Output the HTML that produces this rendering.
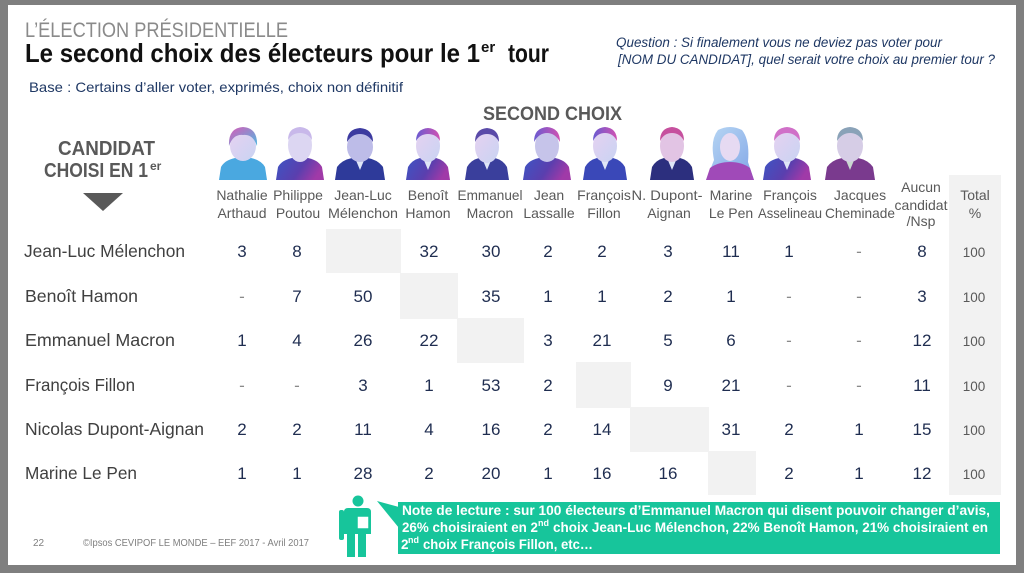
<!DOCTYPE html>
<html><head><meta charset="utf-8"><style>
html,body{margin:0;padding:0;background:#7f7f7f;}
svg{display:block;}
text{font-family:"Liberation Sans",Arial,sans-serif;}
</style></head><body>
<svg width="1024" height="573" viewBox="0 0 1024 573" xmlns="http://www.w3.org/2000/svg">
<defs>
<linearGradient id="suit" x1="0" y1="0" x2="1" y2="0.3"><stop offset="0" stop-color="#3d55c4"/><stop offset="0.6" stop-color="#5a3fae"/><stop offset="1" stop-color="#a03aa8"/></linearGradient>
<linearGradient id="face" x1="0" y1="0" x2="1" y2="1"><stop offset="0" stop-color="#e6d2f0"/><stop offset="1" stop-color="#c9d3f3"/></linearGradient>
<linearGradient id="hair" x1="0" y1="0" x2="1" y2="0"><stop offset="0" stop-color="#6a5ad0"/><stop offset="1" stop-color="#d052b2"/></linearGradient>
<linearGradient id="hairF" x1="0" y1="0" x2="1" y2="1"><stop offset="0" stop-color="#d85cb8"/><stop offset="1" stop-color="#4fb8e0"/></linearGradient>
<linearGradient id="blond" x1="0" y1="0" x2="1" y2="1"><stop offset="0" stop-color="#b9d8f4"/><stop offset="1" stop-color="#7fa4e6"/></linearGradient>
</defs>
<rect x="0" y="0" width="1024" height="573" fill="#7f7f7f"/>
<rect x="8" y="5" width="1008" height="560" fill="#ffffff"/>

<!-- Header -->
<text x="25" y="37" font-size="21" fill="#8a8a8a" textLength="263" lengthAdjust="spacingAndGlyphs">L’ÉLECTION PRÉSIDENTIELLE</text>
<text x="25" y="62" font-size="26" font-weight="bold" fill="#111" textLength="455" lengthAdjust="spacingAndGlyphs">Le second choix des électeurs pour le 1</text>
<text x="481" y="52" font-size="15" font-weight="bold" fill="#111">er</text>
<text x="508" y="62" font-size="26" font-weight="bold" fill="#111" textLength="41" lengthAdjust="spacingAndGlyphs">tour</text>
<text x="29" y="92" font-size="14" fill="#1f3864" textLength="374" lengthAdjust="spacingAndGlyphs">Base : Certains d’aller voter, exprimés, choix non définitif</text>
<text x="616" y="47" font-size="13.5" font-style="italic" fill="#1f3864" textLength="326" lengthAdjust="spacingAndGlyphs">Question : Si finalement vous ne deviez pas voter pour</text>
<text x="618" y="64" font-size="13.5" font-style="italic" fill="#1f3864" textLength="377" lengthAdjust="spacingAndGlyphs">[NOM DU CANDIDAT], quel serait votre choix au premier tour ?</text>

<text x="483" y="120" font-size="19" font-weight="bold" fill="#595959" textLength="139" lengthAdjust="spacingAndGlyphs">SECOND CHOIX</text>

<text x="58" y="155" font-size="20" font-weight="bold" fill="#595959" textLength="97" lengthAdjust="spacingAndGlyphs">CANDIDAT</text>
<text x="44" y="177" font-size="20" font-weight="bold" fill="#595959" textLength="104" lengthAdjust="spacingAndGlyphs">CHOISI EN 1</text>
<text x="150" y="170" font-size="12" font-weight="bold" fill="#595959">er</text>
<polygon points="83,193 123,193 103,211" fill="#595959"/>

<!-- Total column bg -->
<rect x="949" y="175" width="52" height="320" fill="#f2f2f2"/>
<!-- Diagonal cells -->
<rect x="326" y="229" width="75" height="44" fill="#f2f2f2"/>
<rect x="400" y="273" width="58" height="46" fill="#f2f2f2"/>
<rect x="457" y="318" width="67" height="45" fill="#f2f2f2"/>
<rect x="576" y="362" width="55" height="46" fill="#f2f2f2"/>
<rect x="630" y="407" width="79" height="45" fill="#f2f2f2"/>
<rect x="708" y="451" width="48" height="44" fill="#f2f2f2"/>

<!-- Portraits -->
<g id="portraits">
<g transform="translate(243,0)">
<path d="M-24,180 L-22,167 Q-18,160 -8,158 L8,158 Q18,160 22,167 L24,180 Z" fill="#4aa8e0"/>
<ellipse cx="0" cy="146" rx="13" ry="15" fill="url(#face)"/>
<path d="M-14,146 Q-15,128 0,127 Q15,128 14,146 Q10,134 0,135 Q-10,134 -14,146Z" fill="url(#hairF)"/>
</g>
<g transform="translate(300,0)">
<path d="M-24,180 L-22,167 Q-18,160 -8,158 L8,158 Q18,160 22,167 L24,180 Z" fill="url(#suit)"/>
<ellipse cx="0" cy="145" rx="12" ry="17" fill="#dcd6f2"/>
<path d="M-12,140 Q-12,128 0,127 Q12,128 12,140 Q8,133 0,133 Q-8,133 -12,140Z" fill="#c8b8ea"/>
</g>
<g transform="translate(360,0)">
<path d="M-25,180 L-23,167 Q-18,160 -8,158 L8,158 Q18,160 23,167 L25,180 Z" fill="#2e3a9a"/>
<path d="M-5,158 L0,170 L5,158 Z" fill="#dfe6f7"/>
<ellipse cx="0" cy="147" rx="13" ry="15" fill="#bdbce8"/>
<path d="M-13,142 Q-13,129 0,128 Q13,129 13,142 Q8,134 0,134 Q-8,134 -13,142Z" fill="#3c3aa0"/>
</g>
<g transform="translate(428,0)">
<path d="M-22,180 L-20,167 Q-16,160 -8,158 L8,158 Q16,160 20,167 L22,180 Z" fill="url(#suit)"/>
<path d="M-5,158 L0,170 L5,158 Z" fill="#dfe6f7"/>
<ellipse cx="0" cy="146" rx="12" ry="16" fill="url(#face)"/>
<path d="M-12,141 Q-12,129 0,128 Q12,129 12,141 Q8,134 0,134 Q-8,134 -12,141Z" fill="url(#hair)"/>
</g>
<g transform="translate(487,0)">
<path d="M-22,180 L-20,167 Q-16,160 -8,158 L8,158 Q16,160 20,167 L22,180 Z" fill="#3a3f9c"/>
<path d="M-5,158 L0,170 L5,158 Z" fill="#dfe6f7"/>
<ellipse cx="0" cy="147" rx="12" ry="16" fill="url(#face)"/>
<path d="M-12,142 Q-12,129 0,128 Q12,129 12,142 Q8,134 0,134 Q-8,134 -12,142Z" fill="#5a4aa8"/>
</g>
<g transform="translate(547,0)">
<path d="M-24,180 L-22,167 Q-18,160 -8,158 L8,158 Q18,160 22,167 L24,180 Z" fill="url(#suit)"/>
<ellipse cx="0" cy="146" rx="12" ry="16" fill="#c6c4ea"/>
<path d="M-13,142 Q-13,128 0,127 Q13,128 13,142 Q8,133 0,133 Q-8,133 -13,142Z" fill="url(#hair)"/>
</g>
<g transform="translate(605,0)">
<path d="M-22,180 L-20,167 Q-16,160 -8,158 L8,158 Q16,160 20,167 L22,180 Z" fill="#3a48b8"/>
<path d="M-5,158 L0,170 L5,158 Z" fill="#dfe6f7"/>
<ellipse cx="0" cy="146" rx="12" ry="16" fill="url(#face)"/>
<path d="M-12,141 Q-12,128 0,127 Q12,128 12,141 Q8,133 0,133 Q-8,133 -12,141Z" fill="url(#hair)"/>
</g>
<g transform="translate(672,0)">
<path d="M-22,180 L-20,167 Q-16,160 -8,158 L8,158 Q16,160 20,167 L22,180 Z" fill="#2c2f7e"/>
<path d="M-5,158 L0,170 L5,158 Z" fill="#dfe6f7"/>
<ellipse cx="0" cy="146" rx="12" ry="16" fill="#e2c4e4"/>
<path d="M-12,141 Q-12,128 0,127 Q12,128 12,141 Q8,133 0,133 Q-8,133 -12,141Z" fill="#c6509e"/>
</g>
<g transform="translate(730,0)">
<path d="M-16,160 Q-20,140 -12,130 Q0,124 12,130 Q20,140 18,162 L24,180 L-24,180 Z" fill="url(#blond)"/>
<path d="M-24,180 L-20,168 Q-12,162 0,162 Q12,162 20,168 L24,180 Z" fill="#a04ab8"/>
<ellipse cx="0" cy="147" rx="10" ry="14" fill="#e6daf2"/>
</g>
<g transform="translate(787,0)">
<path d="M-24,180 L-22,167 Q-18,160 -8,158 L8,158 Q18,160 22,167 L24,180 Z" fill="url(#suit)"/>
<path d="M-5,158 L0,170 L5,158 Z" fill="#dfe6f7"/>
<ellipse cx="0" cy="146" rx="13" ry="16" fill="url(#face)"/>
<path d="M-13,141 Q-13,128 0,127 Q13,128 13,141 Q8,133 0,133 Q-8,133 -13,141Z" fill="#d070c8"/>
</g>
<g transform="translate(850,0)">
<path d="M-25,180 L-23,167 Q-18,160 -8,158 L8,158 Q18,160 23,167 L25,180 Z" fill="#7a3a8e"/>
<path d="M-5,158 L0,170 L5,158 Z" fill="#c8d8cf"/>
<ellipse cx="0" cy="146" rx="13" ry="16" fill="#d6cde6"/>
<path d="M-13,141 Q-13,128 0,127 Q13,128 13,141 Q8,133 0,133 Q-8,133 -13,141Z" fill="#8aa2b8"/>
</g>
</g>

<!-- Column header names -->
<g font-size="14" fill="#595959" text-anchor="middle">
<text x="242" y="200">Nathalie</text><text x="242" y="218">Arthaud</text>
<text x="298" y="200">Philippe</text><text x="298" y="218">Poutou</text>
<text x="363" y="200">Jean-Luc</text><text x="363" y="218" textLength="70" lengthAdjust="spacingAndGlyphs">Mélenchon</text>
<text x="428" y="200">Benoît</text><text x="428" y="218">Hamon</text>
<text x="490" y="200" textLength="65" lengthAdjust="spacingAndGlyphs">Emmanuel</text><text x="490" y="218">Macron</text>
<text x="549" y="200">Jean</text><text x="549" y="218">Lassalle</text>
<text x="604" y="200">François</text><text x="604" y="218">Fillon</text>
<text x="667" y="200" textLength="71" lengthAdjust="spacingAndGlyphs">N. Dupont-</text><text x="669" y="218">Aignan</text>
<text x="731" y="200">Marine</text><text x="731" y="218">Le Pen</text>
<text x="790" y="200">François</text><text x="790" y="218" textLength="64" lengthAdjust="spacingAndGlyphs">Asselineau</text>
<text x="860" y="200">Jacques</text><text x="860" y="218" textLength="70" lengthAdjust="spacingAndGlyphs">Cheminade</text>
<text x="921" y="192">Aucun</text><text x="921" y="210">candidat</text><text x="921" y="226">/Nsp</text>
<text x="975" y="200">Total</text><text x="975" y="218">%</text>
</g>

<!-- Row labels -->
<g font-size="17.5" fill="#404040">
<text x="24" y="257" textLength="161" lengthAdjust="spacingAndGlyphs">Jean-Luc Mélenchon</text>
<text x="25" y="302" textLength="113" lengthAdjust="spacingAndGlyphs">Benoît Hamon</text>
<text x="25" y="346" textLength="150" lengthAdjust="spacingAndGlyphs">Emmanuel Macron</text>
<text x="25" y="391" textLength="110" lengthAdjust="spacingAndGlyphs">François Fillon</text>
<text x="25" y="435" textLength="179" lengthAdjust="spacingAndGlyphs">Nicolas Dupont-Aignan</text>
<text x="25" y="479" textLength="112" lengthAdjust="spacingAndGlyphs">Marine Le Pen</text>
</g>

<!-- Numbers -->
<g font-size="17" fill="#1f2d50" text-anchor="middle">
<text x="242" y="257">3</text><text x="297" y="257">8</text><text x="429" y="257">32</text><text x="491" y="257">30</text><text x="548" y="257">2</text><text x="602" y="257">2</text><text x="668" y="257">3</text><text x="731" y="257">11</text><text x="789" y="257">1</text><text x="859" y="257" fill="#8a8a8a">-</text><text x="922" y="257">8</text>
<text x="242" y="302" fill="#8a8a8a">-</text><text x="297" y="302">7</text><text x="363" y="302">50</text><text x="491" y="302">35</text><text x="548" y="302">1</text><text x="602" y="302">1</text><text x="668" y="302">2</text><text x="731" y="302">1</text><text x="789" y="302" fill="#8a8a8a">-</text><text x="859" y="302" fill="#8a8a8a">-</text><text x="922" y="302">3</text>
<text x="242" y="346">1</text><text x="297" y="346">4</text><text x="363" y="346">26</text><text x="429" y="346">22</text><text x="548" y="346">3</text><text x="602" y="346">21</text><text x="668" y="346">5</text><text x="731" y="346">6</text><text x="789" y="346" fill="#8a8a8a">-</text><text x="859" y="346" fill="#8a8a8a">-</text><text x="922" y="346">12</text>
<text x="242" y="391" fill="#8a8a8a">-</text><text x="297" y="391" fill="#8a8a8a">-</text><text x="363" y="391">3</text><text x="429" y="391">1</text><text x="491" y="391">53</text><text x="548" y="391">2</text><text x="668" y="391">9</text><text x="731" y="391">21</text><text x="789" y="391" fill="#8a8a8a">-</text><text x="859" y="391" fill="#8a8a8a">-</text><text x="922" y="391">11</text>
<text x="242" y="435">2</text><text x="297" y="435">2</text><text x="363" y="435">11</text><text x="429" y="435">4</text><text x="491" y="435">16</text><text x="548" y="435">2</text><text x="602" y="435">14</text><text x="731" y="435">31</text><text x="789" y="435">2</text><text x="859" y="435">1</text><text x="922" y="435">15</text>
<text x="242" y="479">1</text><text x="297" y="479">1</text><text x="363" y="479">28</text><text x="429" y="479">2</text><text x="491" y="479">20</text><text x="548" y="479">1</text><text x="602" y="479">16</text><text x="668" y="479">16</text><text x="789" y="479">2</text><text x="859" y="479">1</text><text x="922" y="479">12</text>
</g>
<g font-size="13.5" fill="#595959" text-anchor="middle">
<text x="974" y="257">100</text><text x="974" y="302">100</text><text x="974" y="346">100</text><text x="974" y="391">100</text><text x="974" y="435">100</text><text x="974" y="479">100</text>
</g>

<!-- Footer -->
<text x="33" y="546" font-size="10" fill="#7f7f7f">22</text>
<text x="83" y="546" font-size="10.5" fill="#7f7f7f" textLength="226" lengthAdjust="spacingAndGlyphs">©Ipsos  CEVIPOF LE MONDE – EEF 2017 -  Avril 2017</text>

<!-- Icon -->
<g fill="#17c59b">
<circle cx="358" cy="501" r="5.5"/>
<path d="M344,512 Q344,508 348,508 L367,508 Q371,508 371,512 L371,534 L344,534 Z"/>
<rect x="339" y="510" width="5" height="30" rx="2"/>
<rect x="347" y="533" width="8" height="24"/>
<rect x="358" y="533" width="8" height="24"/>
</g>
<rect x="357" y="516" width="12" height="13" fill="#ffffff" stroke="#17c59b" stroke-width="1.5"/>
<polygon points="377,501 399,507 399,528" fill="#17c59b"/>
<rect x="398" y="502" width="602" height="52" fill="#17c59b"/>
<g font-size="13.5" font-weight="bold" fill="#ffffff">
<text x="402" y="515" textLength="588" lengthAdjust="spacingAndGlyphs">Note de lecture : sur 100 électeurs d’Emmanuel Macron qui disent pouvoir changer d’avis,</text>
<text x="402" y="532" textLength="136" lengthAdjust="spacingAndGlyphs">26% choisiraient en 2</text>
<text x="538" y="526" font-size="9">nd</text>
<text x="553" y="532" textLength="435" lengthAdjust="spacingAndGlyphs">choix Jean-Luc Mélenchon, 22% Benoît Hamon, 21% choisiraient en</text>
<text x="401" y="549">2</text>
<text x="408" y="543" font-size="9">nd</text>
<text x="423" y="549" textLength="170" lengthAdjust="spacingAndGlyphs">choix François Fillon, etc…</text>
</g>
</svg>
</body></html>
